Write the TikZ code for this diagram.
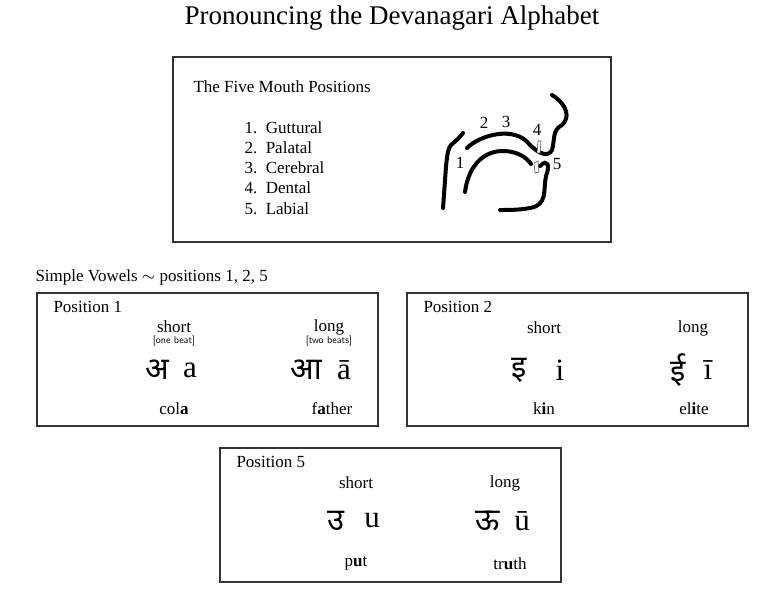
\documentclass[tikz,border=0pt]{standalone}
\usepackage{fontspec}
\setmainfont{Liberation Serif}
\newfontfamily\deva[Script=Devanagari]{Noto Sans}
\usetikzlibrary{positioning}
\begin{document}
\begin{tikzpicture}[x=1pt,y=-1pt,
    panel/.style={draw=black!80, line width=1.3pt},
    head/.style={font=\fontsize{17}{19}\selectfont},
    kind/.style={font=\fontsize{17}{19}\selectfont},
    beat/.style={font=\fontsize{10}{11}\selectfont\sffamily},
    glyph/.style={font=\fontsize{31}{34}\selectfont},
    word/.style={font=\fontsize{17}{19}\selectfont},
    stroke/.style={line width=4pt, line cap=round},
    tooth/.style={draw=black!70, fill=white, line width=0.6pt}
]
\useasboundingbox (0,0) rectangle (783,600);

% Title
\node[font=\fontsize{27}{30}\selectfont] (title) at (392,18) {Pronouncing the Devanagari Alphabet};

% Mouth positions box
\draw[panel] (173,57) rectangle (611,242);
\node[head, anchor=west] (mouth-title) at (190,87) {The Five Mouth Positions};
\foreach \i/\name in {1/Guttural, 2/Palatal, 3/Cerebral, 4/Dental, 5/Labial} {
    \node[head, anchor=west] (pos-\i) at (241,107+\i*20.3) {\i.~~\name};
}

% Mouth drawing
\draw[stroke] (443,208) .. controls (446,170) and (446,150) .. (451,145) .. controls (457,140) and (460,137) .. (463,133);
\draw[stroke] (467,148) .. controls (480,135) and (515,125) .. (530,145) .. controls (538,153) and (548,158) .. (552,150)
    .. controls (555,140) and (552,130) .. (562,125) .. controls (570,118) and (568,105) .. (552,95);
\draw[stroke] (465,192) .. controls (468,168) and (482,150) .. (505,151) .. controls (518,152) and (526,157) .. (531,164);
\draw[stroke] (540,166) .. controls (548,158) and (550,166) .. (546,176) .. controls (543,190) and (548,205) .. (530,208)
    .. controls (520,210) and (508,210) .. (500,210);
\draw[tooth] (538,141) -- (541,141) -- (540,153) -- (537,153) -- cycle;
\draw[tooth] (534,163) -- (538,161) -- (539,172) -- (535,173) -- cycle;
\node[head] (m1) at (460,163) {1};
\node[head] (m2) at (484,123) {2};
\node[head] (m3) at (506,122) {3};
\node[head] (m4) at (537,130) {4};
\node[head] (m5) at (557,164) {5};

% Simple vowels
\node[head, anchor=west] (vowels) at (32,277) {Simple Vowels $\sim$ positions 1, 2, 5};

% Position 1
\draw[panel] (37,293) rectangle (378,426);
\node[head, anchor=west] (p1) at (50,307) {Position 1};
\node[kind] (p1-short) at (174,327) {short};
\node[beat] (p1-sb) at (174,341) {[one beat]};
\node[kind] (p1-long) at (329,327) {long};
\node[beat] (p1-lb) at (329,341) {[two beats]};
\node[glyph] (p1-a) at (157,370) {\deva अ};
\node[glyph] (p1-ar) at (190,370) {a};
\node[glyph] (p1-aa) at (306,370) {\deva आ};
\node[glyph] (p1-aar) at (344,370) {ā};
\node[word] (p1-w1) at (174,409) {col\textbf{a}};
\node[word] (p1-w2) at (332,409) {f\textbf{a}ther};

% Position 2
\draw[panel] (407,293) rectangle (748,426);
\node[head, anchor=west] (p2) at (420,307) {Position 2};
\node[kind] (p2-short) at (544,328) {short};
\node[kind] (p2-long) at (693,328) {long};
\node[glyph] (p2-i) at (519,370) {\deva इ};
\node[glyph] (p2-ir) at (560,370) {i};
\node[glyph] (p2-ii) at (678,370) {\deva ई};
\node[glyph] (p2-iir) at (708,370) {ī};
\node[word] (p2-w1) at (544,409) {k\textbf{i}n};
\node[word] (p2-w2) at (694,409) {el\textbf{i}te};

% Position 5
\draw[panel] (220,448) rectangle (561,582);
\node[head, anchor=west] (p5) at (233,462) {Position 5};
\node[kind] (p5-short) at (356,483) {short};
\node[kind] (p5-long) at (505,483) {long};
\node[glyph] (p5-u) at (336,521) {\deva उ};
\node[glyph] (p5-ur) at (372,521) {u};
\node[glyph] (p5-uu) at (488,521) {\deva ऊ};
\node[glyph] (p5-uur) at (522,521) {ū};
\node[word] (p5-w1) at (356,564) {p\textbf{u}t};
\node[word] (p5-w2) at (510,564) {tr\textbf{u}th};
\end{tikzpicture}
\end{document}
